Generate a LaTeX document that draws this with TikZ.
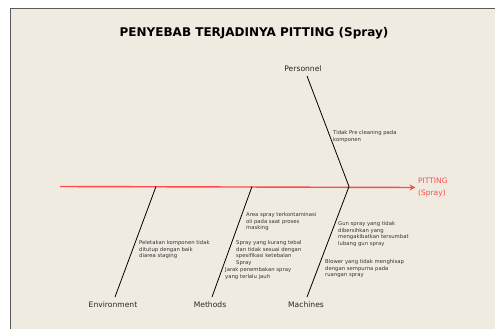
\documentclass[tikz,border=0pt]{standalone}
\usepackage{fontspec}
\setmainfont{DejaVu Sans}
\usetikzlibrary{arrows.meta}
\definecolor{paper}{HTML}{EFEBE1}
\definecolor{frameline}{HTML}{5A5A5A}
\definecolor{spinered}{HTML}{FF4B4B}
\definecolor{notegray}{HTML}{333333}
\begin{document}
\begin{tikzpicture}[x=1pt,y=-1pt,
  note/.style={anchor=north west, inner sep=0pt, align=left,
    font=\fontsize{5.3}{6.5}\selectfont, text=notegray},
  cat/.style={inner sep=0pt, font=\fontsize{7.6}{9}\selectfont, text=black!85},
  bone/.style={draw=black, line width=0.8pt}]
\useasboundingbox (0,0) rectangle (495,329);
\fill[white] (0,0) rectangle (495,329);
\fill[paper] (10,9) rectangle (495,329);
\draw[frameline, line width=1pt] (10,329) -- (10,9) -- (495,9);

% title
\node[font=\bfseries\fontsize{12}{14}\selectfont] (title) at (254,33)
  {PENYEBAB TERJADINYA PITTING (Spray)};

% spine and effect
\coordinate (tail) at (60,186.5);
\node[anchor=west, inner sep=0pt, align=left, text=spinered,
  font=\fontsize{7.5}{12.5}\selectfont] (effect) at (418,187.5) {PITTING\\(Spray)};
\draw[spinered, line width=1.4pt, shorten >=2.5pt,
  -{Stealth[length=6pt,width=6pt]}] (tail) -- (effect.west);

% junctions on the spine
\coordinate (jEnv) at (156,186.5);
\coordinate (jMet) at (252,186.5);
\coordinate (jMac) at (349,186.5);

% categories
\node[cat] (personnel) at (303,69) {Personnel};
\node[cat] (environment) at (113,305) {Environment};
\node[cat] (methods) at (210,305) {Methods};
\node[cat] (machines) at (306,305) {Machines};

\coordinate (bPer) at (307,76);
\coordinate (bEnv) at (115,297);
\coordinate (bMet) at (212,297);
\coordinate (bMac) at (307,297);

\draw[bone] (bPer) -- (jMac);
\draw[bone] (bEnv) -- (jEnv);
\draw[bone] (bMet) -- (jMet);
\draw[bone] (bMac) -- (jMac);

% causes
\node[note] (c1) at (333,130.5) {Tidak Pre cleaning pada\\komponen};
\node[note] (c2) at (139,240.5) {Peletakan komponen tidak\\ditutup dengan baik\\diarea staging};
\node[note] (c3) at (246,212.5) {Area spray terkontaminasi\\oli pada saat proses\\masking};
\node[note] (c4) at (236,240.5) {Spray yang kurang tebal\\dan tidak sesuai dengan\\spesifikasi ketebalan\\Spray};
\node[note] (c5) at (225,267.5) {Jarak penembakan spray\\yang terlalu jauh};
\node[note] (c6) at (338,221.5) {Gun spray yang tidak\\dibersihkan yang\\mengakibatkan tersumbat\\lubang gun spray};
\node[note] (c7) at (325,259.5) {Blower yang tidak menghisap\\dengan sempurna pada\\ruangan spray};
\end{tikzpicture}
\end{document}
